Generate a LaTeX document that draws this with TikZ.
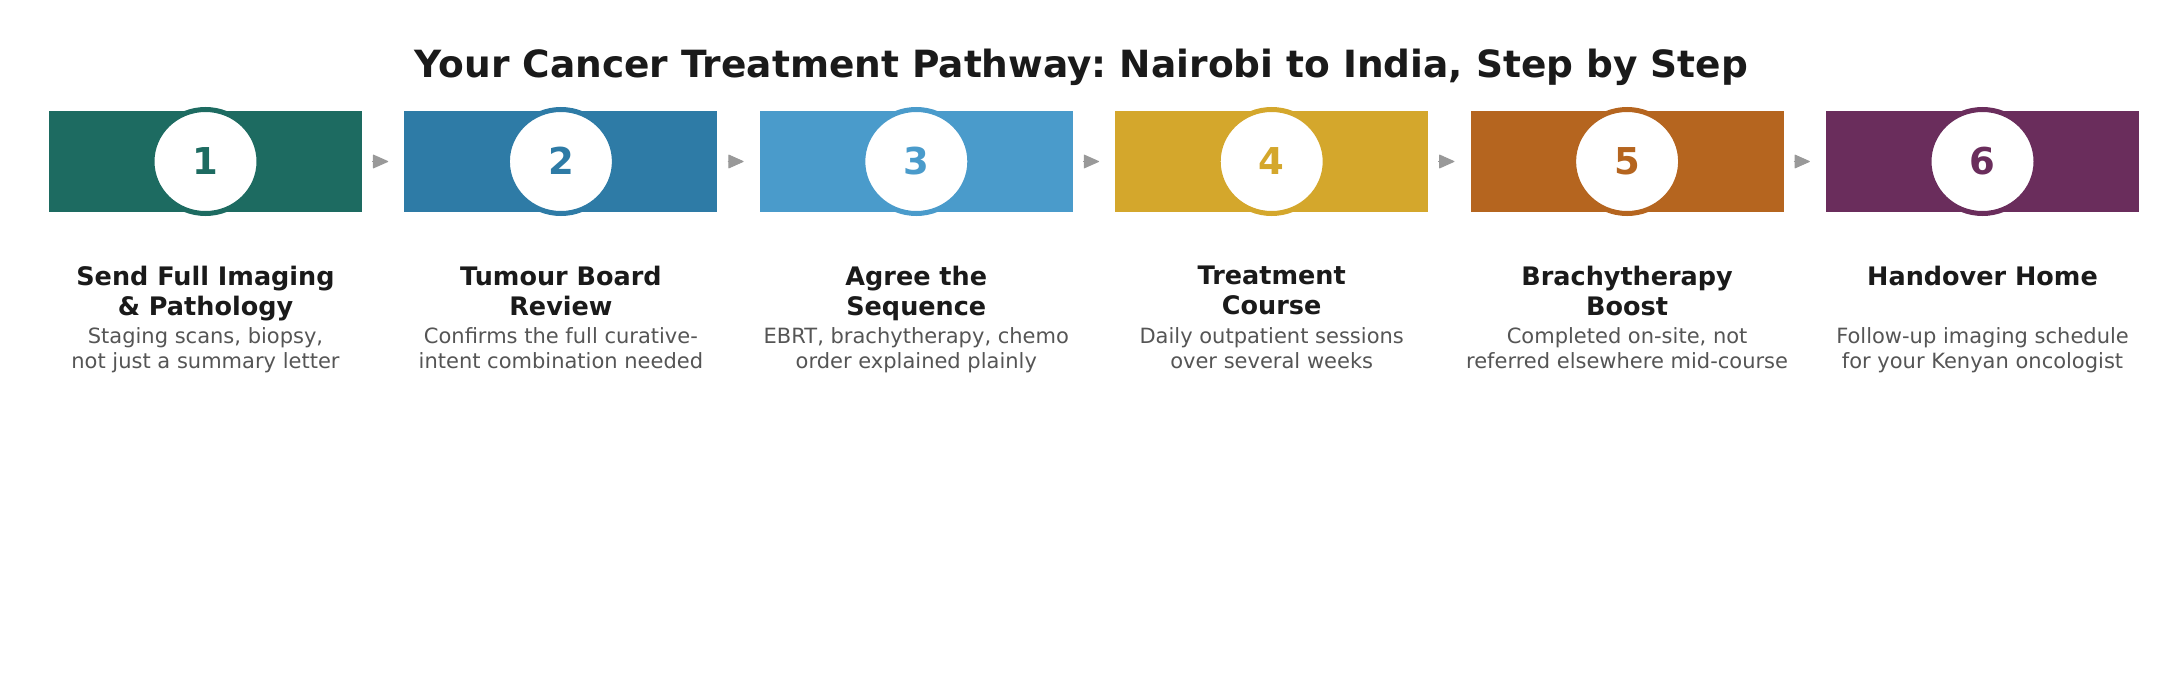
\documentclass[tikz,border=0pt]{standalone}
\usepackage{fontspec}
\setmainfont{DejaVu Sans}
\usetikzlibrary{positioning,shapes.geometric,arrows.meta}
\frenchspacing

\definecolor{stepone}{HTML}{1D6B61}
\definecolor{steptwo}{HTML}{2E7BA6}
\definecolor{stepthree}{HTML}{4A9BCB}
\definecolor{stepfour}{HTML}{D4A72C}
\definecolor{stepfive}{HTML}{B5651F}
\definecolor{stepsix}{HTML}{6A2D5C}
\definecolor{inkblack}{HTML}{1A1A1A}
\definecolor{slate}{HTML}{555555}
\definecolor{arrowgray}{HTML}{999999}

\begin{document}
\begin{tikzpicture}[x=1pt,y=-1pt,
    stepbox/.style={rectangle,minimum width=313pt,minimum height=101pt,inner sep=0pt},
    numdisc/.style={ellipse,draw=#1,fill=white,line width=5pt,minimum width=107pt,minimum height=104pt,inner sep=0pt,text=#1,font=\fontsize{37}{37}\selectfont\bfseries},
    headtext/.style={anchor=north,align=center,inner sep=0pt,text=inkblack,font=\fontsize{25.5}{29.5}\selectfont\bfseries},
    desctext/.style={anchor=north,align=center,inner sep=0pt,text=slate,font=\fontsize{21}{25.5}\selectfont},
    flow/.style={-{Triangle[length=16pt,width=14pt,round]},draw=arrowgray,fill=arrowgray,line width=1pt}]
            \fill[white] (0,0) rectangle (2163,699);
            \useasboundingbox (0,0) rectangle (2163,699);
            % title
            \node[anchor=base,text=inkblack,font=\fontsize{37.5}{37.5}\selectfont\bfseries] (title) at (1081.5,77) {Your Cancer Treatment Pathway: Nairobi to India, Step by Step};
            % coloured step boxes
            \node[stepbox,fill=stepone] (b1) at (205.5,161.5) {};
            \node[stepbox,fill=steptwo,right=42pt of b1] (b2) {};
            \node[stepbox,fill=stepthree,right=42pt of b2] (b3) {};
            \node[stepbox,fill=stepfour,right=42pt of b3] (b4) {};
            \node[stepbox,fill=stepfive,right=42pt of b4] (b5) {};
            \node[stepbox,fill=stepsix,right=42pt of b5] (b6) {};
            % numbers, headings and notes
            \foreach \i/\col/\head/\desc in {
                1/stepone/{Send Full Imaging\\\& Pathology}/{Staging scans, biopsy,\\not just a summary letter},
                2/steptwo/{Tumour Board\\Review}/{Confirms the full curative-\\intent combination needed},
                3/stepthree/{Agree the\\Sequence}/{EBRT, brachytherapy, chemo\\order explained plainly},
                4/stepfour/{Treatment\\Course}/{Daily outpatient sessions\\over several weeks},
                5/stepfive/{Brachytherapy\\Boost}/{Completed on-site, not\\referred elsewhere mid-course},
                6/stepsix/{Handover Home}/{Follow-up imaging schedule\\for your Kenyan oncologist}}{
                \node[numdisc=\col] (n\i) at (b\i.center) {\raisebox{1.5pt}{\i}};
                \node[headtext] (h\i) at ([yshift=-54pt]b\i.south) {\head};
                \node[desctext] (d\i) at ([yshift=-115pt]b\i.south) {\desc};
            }
            % arrows between steps
            \foreach \i [count=\j from 2] in {1,...,5}
                \draw[flow] ([xshift=10pt]b\i.east) -- ([xshift=-16pt]b\j.west);
        \end{tikzpicture}
\end{document}
